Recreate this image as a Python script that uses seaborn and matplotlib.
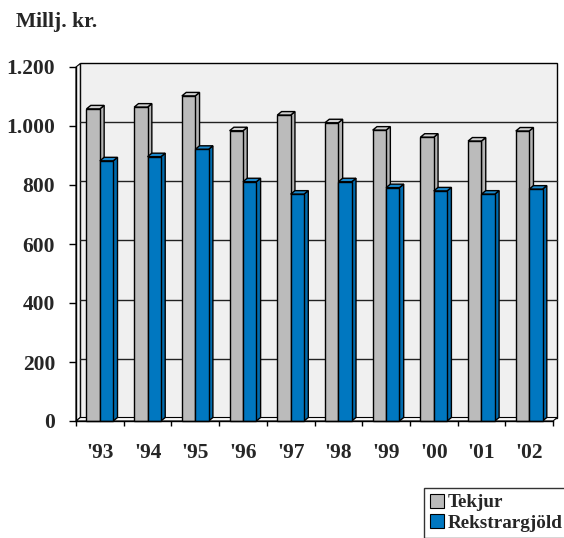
import matplotlib
matplotlib.use("Agg")
import matplotlib.pyplot as plt
from matplotlib.patches import Polygon, Rectangle, Patch
from matplotlib.lines import Line2D
import matplotlib.colors as mcolors
import seaborn as sns
import pandas as pd

years = ["'93", "'94", "'95", "'96", "'97", "'98", "'99", "'00", "'01", "'02"]
tekjur = [1058, 1064, 1102, 984, 1037, 1011, 986, 962, 949, 983]
rekstrargjold = [882, 896, 921, 811, 769, 811, 791, 780, 769, 786]
series_names = ["Tekjur", "Rekstrargjöld"]
yticks = [0, 200, 400, 600, 800, 1000, 1200]
ytick_labels = ["0", "200", "400", "600", "800", "1.000", "1.200"]

GRAY = "#BBBBBB"
BLUE = "#0077C0"
TOPS = {GRAY: "#D0D0D0", BLUE: "#1A88CC"}
SIDES = {GRAY: "#B4B4B4", BLUE: "#006BAE"}

sns.set_style("white")
plt.rcParams["font.family"] = ["Liberation Serif", "DejaVu Serif"]
plt.rcParams["font.weight"] = "bold"

df = pd.DataFrame({
    "year": years * 2,
    "value": tekjur + rekstrargjold,
    "series": [series_names[0]] * len(years) + [series_names[1]] * len(years),
})

W, H, DPI = 5.64, 5.38, 100
fig = plt.figure(figsize=(W, H), dpi=DPI)
ax = fig.add_axes([76 / 564, 117 / 538, 477 / 564, 354 / 538])

sns.barplot(data=df, x="year", y="value", hue="series", palette=[GRAY, BLUE],
            width=0.56, gap=0, ax=ax, legend=False, edgecolor="black",
            linewidth=1.0, saturation=1)

bars = [p for p in ax.patches if isinstance(p, Rectangle) and p.get_height() > 0]
bars = sorted(bars, key=lambda p: p.get_x())

ax.set_xlim(-0.5, len(years) - 0.5)
ax.set_ylim(0, 1200)

# pixel -> data conversion
axw_px = 477
axh_px = 354
xu = (len(years)) / axw_px
yu = 1200 / axh_px
dxp, dyp = 4.3, 3.5
dx, dy = dxp * xu, dyp * yu

x0, x1 = -0.5, len(years) - 0.5

# back wall
ax.add_patch(Rectangle((x0 + dx, dy), x1 - x0, 1200, facecolor="#F0F0F0",
                       edgecolor="black", linewidth=1.0, zorder=0.5, clip_on=False))
# left wall
ax.add_patch(Polygon([(x0, 0), (x0 + dx, dy), (x0 + dx, 1200 + dy), (x0, 1200)],
                     closed=True, facecolor="#F8F8F8", edgecolor="black",
                     linewidth=0.8, zorder=0.6, clip_on=False))
# floor
ax.add_patch(Polygon([(x0, 0), (x1, 0), (x1 + dx, dy), (x0 + dx, dy)],
                     closed=True, facecolor="#F8F8F8", edgecolor="black",
                     linewidth=0.8, zorder=0.6, clip_on=False))
# gridlines on back wall
for v in yticks[1:-1]:
    ax.add_line(Line2D([x0 + dx, x1 + dx], [v + dy, v + dy], color="#222222",
                       linewidth=1.0, zorder=0.7, clip_on=False))

# 3D faces for bars
for k, p in enumerate(bars):
    base = 3 + k * 0.01
    r = mcolors.to_rgb(p.get_facecolor())[0]
    key = GRAY if r > 0.5 else BLUE
    bx, bw, bh = p.get_x(), p.get_width(), p.get_height()
    side = Polygon([(bx + bw, 0), (bx + bw + dx, dy), (bx + bw + dx, bh + dy), (bx + bw, bh)],
                   closed=True, facecolor=SIDES[key], edgecolor="black", linewidth=1.0,
                   zorder=base, clip_on=False)
    top = Polygon([(bx, bh), (bx + bw, bh), (bx + bw + dx, bh + dy), (bx + dx, bh + dy)],
                  closed=True, facecolor=TOPS[key], edgecolor="black", linewidth=1.0,
                  zorder=base, clip_on=False)
    ax.add_patch(side)
    ax.add_patch(top)
    p.set_zorder(base + 0.005)
    p.set_clip_on(False)

# axes styling
for s in ["top", "right"]:
    ax.spines[s].set_visible(False)
for s in ["left", "bottom"]:
    ax.spines[s].set_color("black")
    ax.spines[s].set_linewidth(1.0)
    ax.spines[s].set_zorder(5)
ax.set_facecolor("none")
ax.set_xlabel("")
ax.set_ylabel("")
ax.set_yticks(yticks)
ax.set_yticklabels(ytick_labels, fontsize=15.5, fontweight="bold")
ax.tick_params(axis="y", direction="out", length=5, width=1, pad=10, color="black", left=True)
ax.set_xticks(range(len(years)))
ax.set_xticklabels(years, fontsize=15.5, fontweight="bold")
ax.tick_params(axis="x", which="major", length=0, pad=16)
ax.set_xticks([i - 0.5 for i in range(len(years) + 1)], minor=True)
ax.tick_params(axis="x", which="minor", direction="out", length=3.5, width=1, color="black", bottom=True)
ax.grid(False)

fig.text(16 / 564, 1 - 27 / 538, "Millj. kr.", fontsize=15.5, fontweight="bold",
         ha="left", va="baseline")

handles = [Patch(facecolor=GRAY, edgecolor="black", linewidth=0.8),
           Patch(facecolor=BLUE, edgecolor="black", linewidth=0.8)]
leg = fig.legend(handles, series_names, loc="upper left",
                 bbox_to_anchor=(424 / 564, 1 - 488 / 538),
                 prop={"size": 13.8, "weight": "bold"}, frameon=True, fancybox=False,
                 shadow=False, handlelength=0.75, handleheight=0.75, handletextpad=0.2,
                 borderpad=0.3, labelspacing=0.15, borderaxespad=0)
leg.get_frame().set_edgecolor("black")
leg.get_frame().set_linewidth(1.0)

fig.savefig("out.png", dpi=DPI)
